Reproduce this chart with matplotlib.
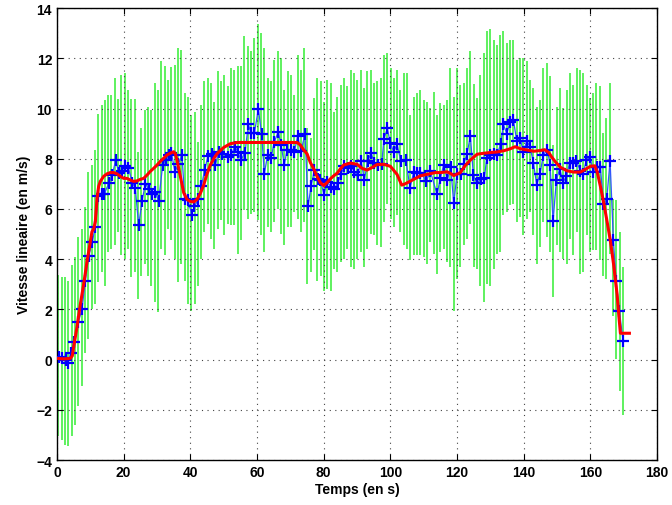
import numpy as np
import matplotlib
matplotlib.use('Agg')
import matplotlib.pyplot as plt

plt.rcParams['font.family'] = ['Liberation Sans', 'DejaVu Sans']

# green error bars, one per second (tops and bottoms)
bar_top = [3.37, 3.28, 3.28, 3.15, 3.75, 4.08, 4.88, 5.2, 6.08, 7.48, 7.75, 8.35, 9.8, 10.15, 10.35,
           10.55, 10.55, 11.2, 10.4, 11.35, 11.41, 10.75, 10.4, 10.4, 8.28,
           9.21, 9.95, 10.08, 9.95, 11.0, 10.75, 11.88, 11.68, 11.15, 11.64, 11.75, 12.41, 12.35, 10.61,
           10.48, 9.75, 9.88, 8.68, 10.15, 11.08, 11.21, 11.0, 10.28, 11.48, 11.08,
           11.35, 10.88, 11.61, 11.55, 11.68, 11.68, 12.88, 12.48, 12.28, 12.81, 13.37, 13.0, 12.41,
           11.21, 11.08, 11.95, 12.28, 12.01, 10.75, 11.48, 11.35, 10.55, 12.15, 11.55, 12.41,
           9.21, 8.81, 10.41, 11.21, 11.08, 10.28, 11.15, 11.01, 9.88, 10.48, 10.95, 11.21, 10.88,
           11.55, 11.41, 11.15, 11.55, 10.81, 11.48, 11.55, 11.01, 11.08, 11.21, 12.15, 12.21,
           11.61, 11.21, 11.55, 10.75, 11.41, 11.41, 9.75, 10.48, 10.61, 10.75, 10.35, 10.28, 10.01,
           10.68, 9.75, 10.21, 10.15, 10.35, 11.61, 10.48, 11.61, 10.95, 11.01, 11.61, 12.28,
           10.97, 10.41, 11.35, 12.21, 13.08, 13.15, 12.75, 12.55, 12.95, 13.08, 12.61, 12.75, 12.75,
           11.95, 12.01, 12.01, 11.88, 11.15, 10.81, 10.08, 10.35, 11.61, 11.81, 11.28, 8.55,
           10.08, 10.81, 10.01, 10.75, 11.41, 10.95, 11.61, 11.55, 11.41, 10.95, 10.41, 10.61, 11.01,
           10.88, 9.01, 9.61, 11.01, 6.41, 6.35, 5.08, 3.68]
bar_bot = [-3.05, -3.2, -3.4, -3.43, -3.05, -2.6, -1.85, -1.05, 0.28, 0.81, 2.0, 2.2, 3.1, 3.5, 2.95,
           4.28, 4.41, 4.55, 5.08, 4.15, 4.0, 4.41, 3.28, 3.48, 2.41,
           3.35, 3.81, 3.35, 2.95, 2.28, 1.88, 4.41, 4.15, 5.21, 4.75, 4.0, 3.08, 3.81, 3.15,
           2.21, 1.95, 2.21, 2.95, 4.0, 5.08, 5.41, 4.81, 4.41, 5.21, 5.55,
           4.95, 5.41, 5.35, 5.35, 4.21, 4.75, 5.95, 5.61, 5.81, 5.88, 5.55, 4.95, 4.28,
           5.28, 5.08, 5.48, 6.01, 5.01, 4.55, 5.28, 5.28, 5.88, 5.61, 5.08, 5.48,
           3.01, 3.48, 4.35, 3.15, 3.35, 2.75, 2.81, 2.75, 3.61, 3.48, 3.88, 4.01, 4.41,
           3.68, 3.61, 4.01, 4.28, 3.68, 4.41, 5.01, 4.95, 4.55, 4.48, 5.48, 6.21,
           5.61, 5.28, 5.75, 5.08, 4.55, 4.41, 3.95, 4.15, 4.15, 4.15, 4.08, 3.81, 4.68,
           4.21, 3.41, 4.28, 4.41, 3.88, 3.68, 1.95, 3.21, 3.68, 4.55, 4.81, 5.41,
           3.68, 3.61, 2.95, 2.28, 3.01, 2.95, 3.61, 4.21, 4.28, 5.75, 5.88, 6.15, 6.21,
           5.48, 5.68, 4.95, 5.61, 5.88, 4.95, 3.81, 4.48, 5.48, 4.88, 4.28, 2.48,
           4.55, 4.28, 4.01, 3.81, 4.81, 4.15, 5.08, 3.41, 3.48, 4.95, 4.28, 4.35, 4.35,
           3.95, 3.35, 3.21, 4.21, 1.75, 0.01, -1.25, -2.19]
bar_t = np.linspace(0.4, 169.8, len(bar_top))

# blue measured speed
t_mes = [0.5, 1.5, 2.6, 3.3, 4.1, 5.1, 6.4, 7.5, 8.5, 9.5, 10.6, 11.5, 12.4, 13.4, 14.2, 15.6, 16.6,
         17.6, 18.5, 19.4, 20.4, 21.4, 22.6, 23.5, 24.5, 25.5, 26.5, 27.5, 28.4, 29.4, 30.5, 31.7,
         32.6, 33.5, 34.3, 35.4, 36.4, 37.5, 38.3, 39.3, 40.4, 41.2, 42.4, 43.3, 44.3, 45.3, 46.5,
         47.5, 48.5, 49.6, 51.2, 52.2, 53.4, 54.2, 55.2, 56.4, 57.4, 58.2, 59.2, 60.4, 61.4, 62.2,
         63.2, 64.2, 65.2, 66.4, 67.2, 68.2, 69.0, 70.2, 71.2, 72.2, 73.2, 74.4, 75.3, 76.2, 77.2,
         78.2, 79.0, 80.1, 81.0, 82.2, 83.2, 84.2, 85.2, 86.2, 87.3, 88.2, 89.2, 90.2, 91.2, 92.2,
         93.2, 94.2, 95.2, 96.3, 97.4, 98.1, 99.1, 100.0, 101.0, 102.0, 103.1, 104.6, 105.9, 107.0,
         108.0, 109.0, 110.8, 112.0, 114.0, 115.0, 116.0, 117.1, 118.1, 119.0, 120.0, 121.1, 122.0,
         123.0, 124.0, 124.9, 125.9, 127.2, 128.2, 128.9, 129.9, 131.0, 132.0, 133.1, 133.9, 134.9,
         135.9, 136.9, 137.9, 138.9, 139.9, 140.9, 141.9, 142.9, 143.9, 144.9, 145.9, 147.1, 147.9,
         148.8, 149.8, 150.8, 151.8, 152.8, 153.8, 154.8, 155.8, 157.0, 157.8, 158.8, 159.9, 160.8,
         162.0, 163.0, 163.9, 164.9, 165.9, 166.9, 167.7, 168.7, 169.8]
v_mes = [0.1, 0.05, -0.02, -0.12, 0.25, 0.72, 1.5, 2.0, 3.15, 4.13, 4.7, 5.3, 6.5, 6.6, 6.6, 7.05, 7.35,
         7.95, 7.45, 7.5, 7.7, 7.65, 7.05, 6.82, 5.35, 6.3, 7.0, 6.8, 6.58, 6.68, 6.32, 7.75,
         7.95, 8.15, 8.25, 7.48, 7.8, 8.14, 6.4, 6.35, 5.78, 6.1, 6.38, 6.9, 7.55, 8.12, 8.21,
         7.75, 8.28, 8.2, 8.08, 8.15, 8.48, 8.28, 7.95, 8.25, 9.37, 9.01, 9.01, 9.99, 8.97, 7.41,
         8.17, 8.04, 8.68, 9.08, 8.55, 7.77, 8.35, 8.35, 8.28, 8.9, 8.3, 9.0, 6.1, 6.9, 7.55,
         7.2, 7.15, 6.56, 7.08, 6.88, 6.8, 7.03, 7.4, 7.7, 7.62, 7.73, 7.47, 7.36, 7.93, 7.16,
         7.91, 8.23, 7.85, 7.77, 7.81, 8.8, 9.21, 8.61, 8.28, 8.58, 7.93, 7.96, 6.85, 7.47,
         7.43, 7.45, 7.11, 7.5, 6.58, 7.23, 7.77, 7.15, 7.68, 6.22, 7.41, 7.4, 7.79,
         8.21, 8.9, 7.34, 7.03, 7.2, 7.24, 8.03, 8.14, 8.18, 8.15, 8.6, 9.37, 9.0,
         9.45, 9.55, 8.71, 8.81, 8.28, 8.71, 8.48, 7.85, 6.95, 7.41, 8.17, 8.35, 7.77,
         5.51, 7.15, 7.61, 7.05, 7.32, 7.85, 7.85, 7.91, 7.51, 7.41, 7.95, 8.07, 7.48,
         7.68, 7.68, 6.18, 6.38, 7.92, 4.76, 3.15, 1.92, 0.75]

# red filtered speed
t_fil = [0, 2, 4, 4.6, 5, 6, 7, 8, 9, 10, 10.5, 11, 11.5, 12, 12.5, 13, 14, 15, 16, 17, 18, 19, 20, 21,
         22, 23, 24, 25, 26, 27, 28, 29, 30, 31, 32, 33, 34, 35, 35.5, 36, 37, 38, 39, 40, 41, 42, 43,
         44, 45, 46, 47, 48, 49, 50, 52, 54, 72, 73, 74, 75, 76, 77, 78, 79, 80, 81, 82, 83, 84, 85,
         86, 88, 90, 91.5, 93, 94.5, 96, 98, 100, 102, 103.4, 104.4, 107, 109, 111, 113.5, 115, 117,
         118, 119, 121, 122.4, 124, 126, 128, 130, 132, 134, 136, 137.4, 139, 141, 143, 145, 146.3,
         147.5, 148.5, 149.5, 151, 153, 155, 157, 158.5, 160, 161.3, 162, 163, 164, 165, 166, 167,
         168, 168.5, 169, 171.7]
v_fil = [0.05, 0.03, 0.05, 0.15, 0.5, 1.3, 2.2, 3.0, 3.9, 4.7, 5.1, 5.2, 5.5, 6.4, 6.9, 7.1, 7.3, 7.4,
         7.45, 7.45, 7.4, 7.3, 7.22, 7.22, 7.15, 7.1, 7.12, 7.18, 7.22, 7.35, 7.5, 7.62, 7.75, 7.9,
         8.02, 8.15, 8.22, 8.28, 8.2, 7.95, 7.3, 6.65, 6.38, 6.3, 6.28, 6.38, 6.62, 6.95, 7.4, 7.75,
         8.0, 8.2, 8.33, 8.45, 8.6, 8.65, 8.65, 8.55, 8.35, 8.2, 7.85, 7.6, 7.3, 7.05, 6.93, 7.05,
         7.2, 7.32, 7.42, 7.6, 7.75, 7.83, 7.78, 7.62, 7.55, 7.65, 7.77, 7.78, 7.7, 7.38, 6.95, 7.0,
         7.18, 7.32, 7.38, 7.45, 7.45, 7.48, 7.42, 7.33, 7.45, 7.72, 7.95, 8.18, 8.22, 8.25, 8.27,
         8.32, 8.4, 8.48, 8.4, 8.35, 8.3, 8.33, 8.36, 8.25, 8.05, 7.88, 7.66, 7.52, 7.47, 7.47, 7.58,
         7.7, 7.72, 7.5, 6.9, 6.25, 5.5, 4.72, 3.75, 2.6, 1.8, 1.05, 1.05]

fig = plt.figure(figsize=(6.72, 5.06), dpi=100)
ax = fig.add_axes([0.0848, 0.0889, 0.893, 0.893])

ax.vlines(bar_t, bar_bot, bar_top, color='#33ee33', linewidth=1.1, zorder=1)
ax.plot(t_mes, v_mes, color='#3355ff', linewidth=0.9, zorder=2)
ax.plot(t_mes, v_mes, linestyle='none', marker='+', markersize=8, markeredgewidth=1.6,
        color='#0000ff', zorder=3)
ax.plot(t_fil, v_fil, color='red', linewidth=2.2, zorder=4)

ax.set_xlim(0, 180)
ax.set_ylim(-4, 14)
ax.set_xticks(np.arange(0, 181, 20))
ax.set_yticks(np.arange(-4, 15, 2))
ax.grid(True, linestyle=(0, (1, 4)), color='#444444', linewidth=0.8)
ax.tick_params(direction='in', top=True, right=True, length=4, labelsize=10)
for lab in ax.get_xticklabels() + ax.get_yticklabels():
    lab.set_fontweight('bold')
for s in ax.spines.values():
    s.set_linewidth(1.0)

ax.set_xlabel('Temps (en s)', fontsize=10, fontweight='bold', labelpad=2)
ax.set_ylabel('Vitesse lineaire (en m/s)', fontsize=10, fontweight='bold', labelpad=4)

fig.savefig('out.png', dpi=100)
